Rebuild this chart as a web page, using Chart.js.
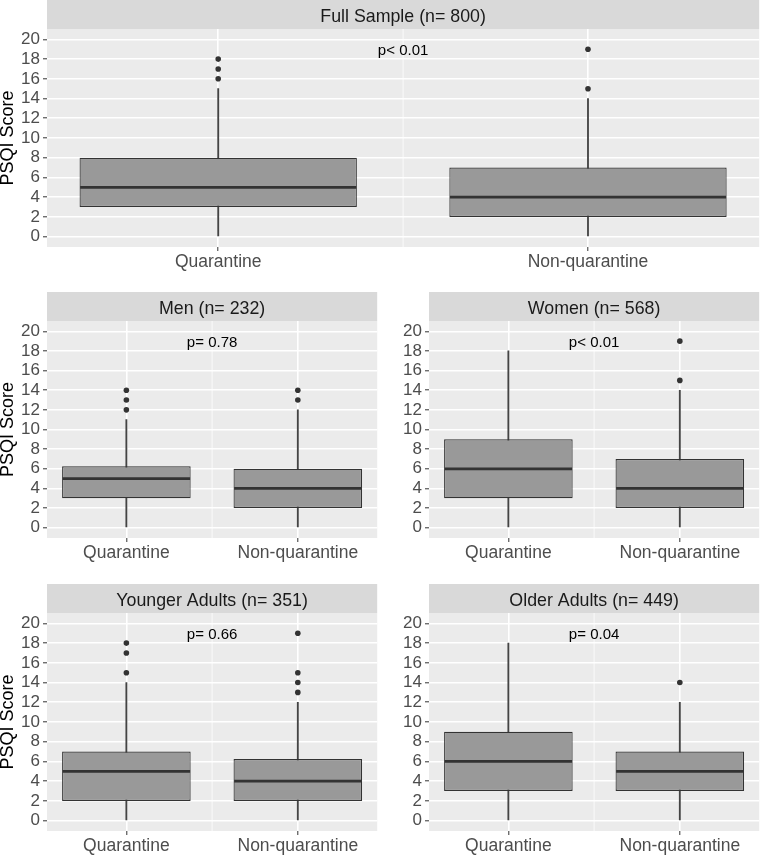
<!DOCTYPE html>
<html><head><meta charset="utf-8">
<script src="https://cdn.jsdelivr.net/npm/chart.js@4.4.0/dist/chart.umd.min.js"></script>
<style>
html,body{margin:0;padding:0;background:#fff;}
#wrap{position:relative;width:762px;height:855px;overflow:hidden;background:#fff;}
.pnl{position:absolute;}
</style></head><body><div id="wrap"></div>
<script>
// ---------------- data ----------------
const categories = ['Quarantine', 'Non-quarantine'];
const panelTitles = ['Full Sample (n= 800)', 'Men (n= 232)', 'Women (n= 568)', 'Younger Adults (n= 351)', 'Older Adults (n= 449)'];
const pLabels = ['p< 0.01', 'p= 0.78', 'p< 0.01', 'p= 0.66', 'p= 0.04'];
const yTicks = [0, 2, 4, 6, 8, 10, 12, 14, 16, 18, 20];
const whiskerLow  = [[0, 0], [0, 0], [0, 0], [0, 0], [0, 0]];
const q1          = [[3, 2], [3, 2], [3, 2], [2, 2], [3, 3]];
const median      = [[5, 4], [5, 4], [6, 4], [5, 4], [6, 5]];
const q3          = [[8, 7], [6.25, 6], [9, 7], [7, 6.25], [9, 7]];
const whiskerHigh = [[15, 14], [11, 12], [18, 14], [14, 12], [18, 12]];
const outliers    = [
  [[16, 17, 18], [15, 19]],
  [[12, 13, 14], [13, 14]],
  [[], [15, 19]],
  [[15, 17, 18], [13, 14, 15, 19]],
  [[], [14]]
];
const pLabelY = 19;

// ---------------- layout / style ----------------
const FONT = "'Liberation Sans', Arial, Helvetica, sans-serif";
const layouts = [
  {left: 0,   top: 0,   w: 762, h: 280, padTop: 29, yW: 47, xH: 33, yTitle: true},
  {left: 0,   top: 280, w: 380, h: 290, padTop: 41, yW: 47, xH: 32, yTitle: true},
  {left: 380, top: 280, w: 382, h: 290, padTop: 41, yW: 49, xH: 32, yTitle: false},
  {left: 0,   top: 570, w: 380, h: 285, padTop: 43, yW: 47, xH: 24, yTitle: true},
  {left: 380, top: 570, w: 382, h: 285, padTop: 43, yW: 49, xH: 24, yTitle: false}
];
const STRIP_H = 29;

const facetPlugin = {
  id: 'facet',
  beforeDraw(chart, args, o) {
    const {ctx, chartArea: a} = chart;
    ctx.save();
    ctx.fillStyle = '#EBEBEB';
    ctx.fillRect(a.left, a.top, a.right - a.left, a.bottom - a.top);
    ctx.fillStyle = '#D9D9D9';
    ctx.fillRect(a.left, a.top - STRIP_H, a.right - a.left, STRIP_H);
    ctx.fillStyle = '#1A1A1A';
    ctx.font = '17.8px ' + FONT;
    ctx.textAlign = 'center';
    ctx.textBaseline = 'alphabetic';
    ctx.fillText(o.title, (a.left + a.right) / 2, a.top - 7);
    // minor vertical grid line between the two categories
    const xs = chart.scales.x;
    const xm = xs.getPixelForValue(1.5);
    ctx.strokeStyle = '#FFFFFF';
    ctx.lineWidth = 0.8;
    ctx.beginPath();
    ctx.moveTo(xm, a.top); ctx.lineTo(xm, a.bottom);
    ctx.stroke();
    ctx.restore();
  },
  afterDatasetsDraw(chart, args, o) {
    const {ctx} = chart;
    const ys = chart.scales.y, xs = chart.scales.x;
    const meta = chart.getDatasetMeta(1);
    ctx.save();
    meta.data.forEach((bar, i) => {
      const y = ys.getPixelForValue(median[o.p][i]);
      ctx.beginPath();
      ctx.moveTo(bar.x - bar.width / 2 + 0.6, y);
      ctx.lineTo(bar.x + bar.width / 2 - 0.6, y);
      ctx.lineWidth = 2.8;
      ctx.strokeStyle = '#333333';
      ctx.stroke();
    });
    ctx.fillStyle = '#000000';
    ctx.font = '15px ' + FONT;
    ctx.textAlign = 'center';
    ctx.textBaseline = 'alphabetic';
    ctx.fillText(pLabels[o.p], xs.getPixelForValue(1.5), ys.getPixelForValue(pLabelY) + 5.5);
    ctx.restore();
  }
};

const wrap = document.getElementById('wrap');
layouts.forEach((L, p) => {
  const div = document.createElement('div');
  div.className = 'pnl';
  div.style.left = L.left + 'px'; div.style.top = L.top + 'px';
  div.style.width = L.w + 'px'; div.style.height = L.h + 'px';
  const cv = document.createElement('canvas');
  div.appendChild(cv); wrap.appendChild(div);

  const outlierPts = [];
  categories.forEach((c, i) => outliers[p][i].forEach(v => outlierPts.push({x: i + 1, y: v})));

  new Chart(cv, {
    type: 'bar',
    data: {
      datasets: [
        {type: 'scatter', data: outlierPts, order: 0, pointRadius: 2.8, pointHoverRadius: 2.8,
         backgroundColor: '#333333', borderWidth: 0},
        {type: 'bar', data: categories.map((c, i) => ({x: i + 1, y: [q1[p][i], q3[p][i]]})),
         backgroundColor: '#999999', borderColor: '#333333', borderWidth: 1.2, borderSkipped: false,
         grouped: false, categoryPercentage: 0.75, barPercentage: 1, order: 1},
        {type: 'bar', data: categories.map((c, i) => ({x: i + 1, y: [whiskerLow[p][i], whiskerHigh[p][i]]})),
         backgroundColor: '#444444', borderWidth: 0, barThickness: 1.2, grouped: false, order: 2}
      ]
    },
    options: {
      responsive: true, maintainAspectRatio: false, devicePixelRatio: 1, animation: false,
      layout: {padding: {top: L.padTop, left: 0, right: 0, bottom: 0}},
      plugins: {legend: {display: false}, tooltip: {enabled: false}, facet: {title: panelTitles[p], p: p}},
      scales: {
        x: {
          type: 'linear', min: 0.537, max: 2.463, offset: false,
          grid: {offset: false, color: '#FFFFFF', lineWidth: 1.6, tickColor: '#333333', tickLength: 4, tickWidth: 1},
          border: {display: false},
          afterBuildTicks: s => { s.ticks = categories.map((c, i) => ({value: i + 1})); },
          afterFit: s => { s.height = L.xH; },
          ticks: {autoSkip: false, maxRotation: 0, padding: 1, color: '#4D4D4D',
                  font: {family: FONT, size: 17.5}, callback: (v, i) => categories[i]}
        },
        y: {
          type: 'linear', min: -1.05, max: 21.05,
          grid: {color: '#FFFFFF', lineWidth: 1.6, tickColor: '#333333', tickLength: 4, tickWidth: 1},
          border: {display: false},
          afterBuildTicks: s => { s.ticks = yTicks.map(v => ({value: v})); },
          afterFit: s => { s.width = L.yW; },
          ticks: {autoSkip: false, padding: 3, color: '#4D4D4D', font: {family: FONT, size: 17}},
          title: {display: L.yTitle, text: 'PSQI Score', color: '#000000', padding: {top: 0, bottom: 0},
                  font: {family: FONT, size: 18, lineHeight: 0.9}}
        }
      }
    },
    plugins: [facetPlugin]
  });
});
</script></body></html>
